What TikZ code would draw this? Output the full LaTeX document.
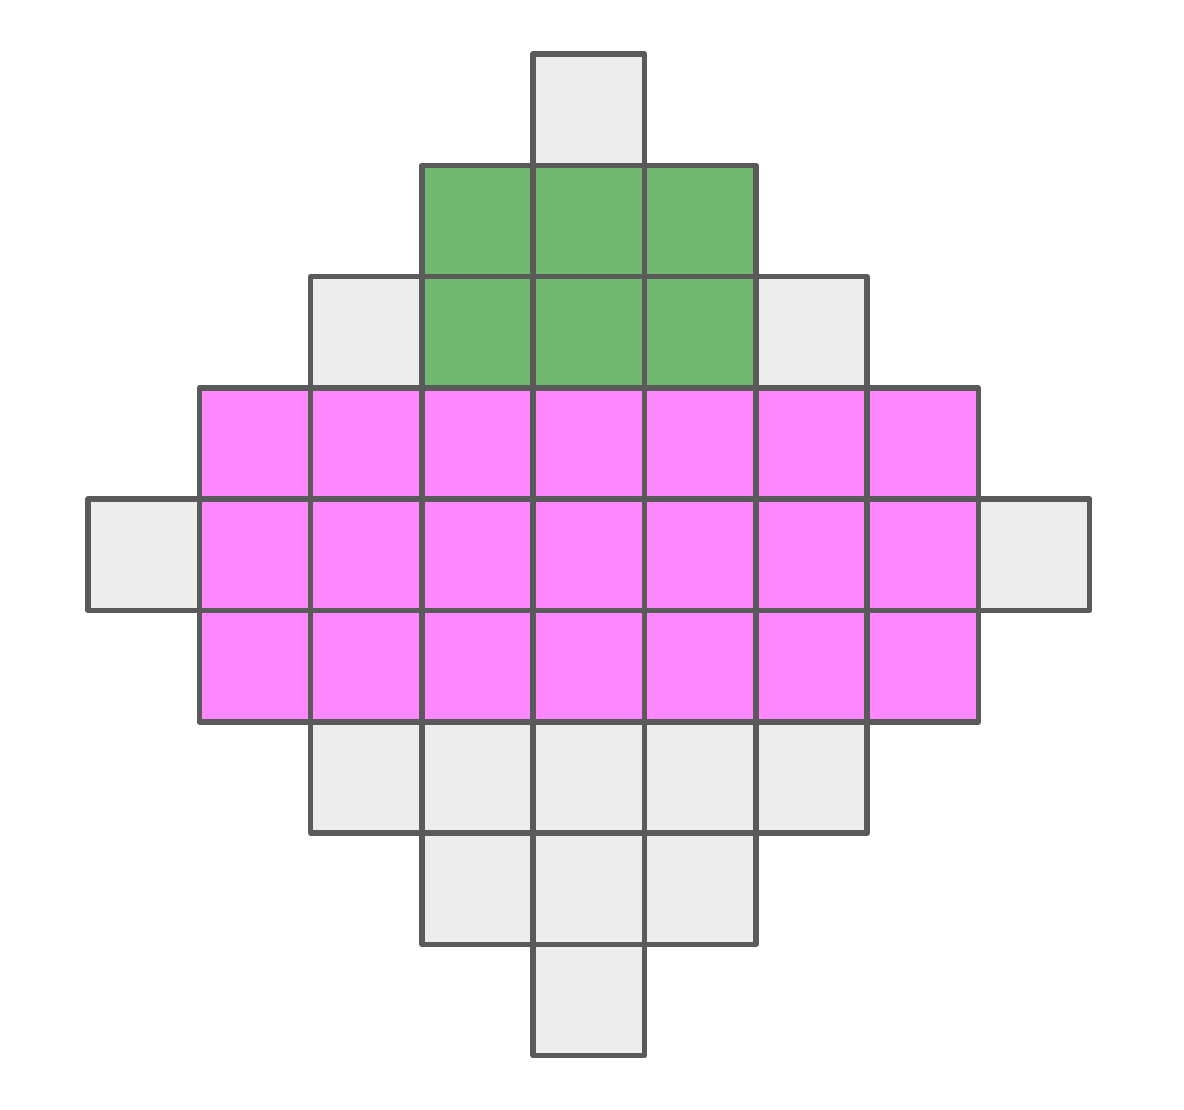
\documentclass[tikz,border=0pt]{standalone}
\begin{document}
\begin{tikzpicture}[x=1pt,y=-1pt]
\definecolor{cgray}{HTML}{EDEDED}
\definecolor{cgreen}{HTML}{70B770}
\definecolor{cpink}{HTML}{FF88FF}
\definecolor{cline}{HTML}{5A5A5A}
\tikzset{cell/.style={draw=cline,line width=5.5pt,line join=round,minimum width=111.3pt,minimum height=111.3pt,inner sep=0pt,outer sep=0pt,anchor=north west}}
\useasboundingbox (0,0) rectangle (1184,1110);
\fill[white] (0,0) rectangle (1184,1110);
\foreach \r/\cols/\col in {0/{4}/cgray,
  1/{3,4,5}/cgreen,
  2/{2,6}/cgray, 2/{3,4,5}/cgreen,
  3/{1,2,3,4,5,6,7}/cpink,
  4/{0,8}/cgray, 4/{1,2,3,4,5,6,7}/cpink,
  5/{1,2,3,4,5,6,7}/cpink,
  6/{2,3,4,5,6}/cgray,
  7/{3,4,5}/cgray,
  8/{4}/cgray}{
  \foreach \c in \cols {
    \node[cell,fill=\col] (c\r-\c) at ({88+111.3*\c},{54+111.3*\r}) {};
  }
}
\end{tikzpicture}
\end{document}
